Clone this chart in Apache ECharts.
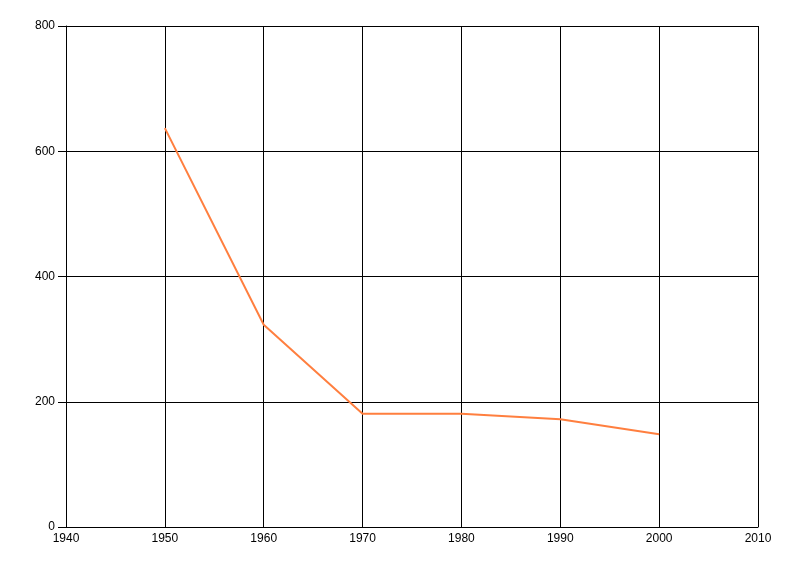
<!DOCTYPE html>
<html><head><meta charset="utf-8">
<script src="https://cdn.jsdelivr.net/npm/echarts@6/dist/echarts.min.js"></script>
<style>html,body{margin:0;padding:0;background:#fff}#c{width:800px;height:576px}</style>
</head><body><div id="c"></div>
<script>
const years = [1950, 1960, 1970, 1980, 1990, 2000];
const values = [637, 323, 181, 181, 172, 148];

const chart = echarts.init(document.getElementById('c'), null, {renderer: 'canvas'});
chart.setOption({
  animation: false,
  backgroundColor: '#ffffff',
  grid: {left: 66, top: 26, right: 42, bottom: 49, containLabel: false},
  xAxis: {
    type: 'value', min: 1940, max: 2010, interval: 10,
    axisLine: {show: true, lineStyle: {color: '#000', width: 1}},
    axisTick: {show: false},
    axisLabel: {color: '#000', fontFamily: 'Liberation Sans', fontSize: 12, margin: 6,
      formatter: v => String(v)},
    splitLine: {show: true, lineStyle: {color: '#000', width: 1}}
  },
  yAxis: {
    type: 'value', min: 0, max: 800, interval: 200,
    axisLine: {show: true, lineStyle: {color: '#000', width: 1}},
    axisTick: {show: true, length: 8, lineStyle: {color: '#000'}},
    axisLabel: {color: '#000', fontFamily: 'Liberation Sans', fontSize: 12, margin: 11,
      formatter: v => String(v)},
    splitLine: {show: true, lineStyle: {color: '#000', width: 1}}
  },
  series: [{
    type: 'line',
    data: years.map((y, i) => [y, values[i]]),
    showSymbol: false,
    lineStyle: {color: '#ff7f3f', width: 2},
    itemStyle: {color: '#ff7f3f'}
  }]
});
</script></body></html>
